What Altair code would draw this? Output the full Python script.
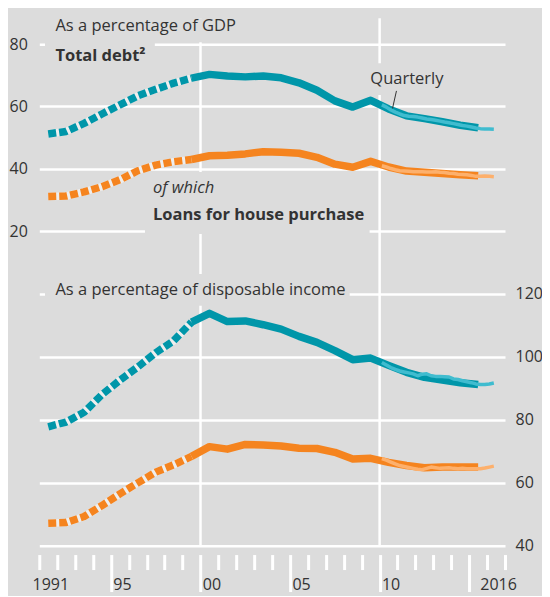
import altair as alt
import pandas as pd

# ---------------- data ----------------
years = list(range(1991, 2016))  # annual observations, plotted at mid-year

gdp_total = [51.2, 52.0, 54.6, 57.6, 60.5, 63.4, 65.5, 67.5, 69.1, 70.3,
             69.8, 69.5, 69.8, 69.2, 67.6, 65.2, 61.8, 59.8, 62.0, 59.2,
             57.0, 56.1, 55.1, 54.0, 53.2]
gdp_house = [31.1, 31.3, 32.6, 34.3, 36.5, 39.4, 41.2, 42.3, 43.0, 44.2,
             44.4, 44.8, 45.5, 45.3, 45.0, 43.7, 41.5, 40.5, 42.4, 40.6,
             39.3, 38.9, 38.5, 38.1, 37.8]
inc_total = [77.8, 79.3, 82.4, 88.0, 92.6, 96.8, 101.3, 105.1, 111.0, 113.8,
             111.2, 111.4, 110.2, 108.8, 106.5, 104.6, 102.0, 99.1, 99.6, 97.3,
             95.1, 93.5, 92.6, 91.8, 91.2]
inc_house = [47.2, 47.4, 49.3, 52.8, 56.5, 60.0, 63.4, 65.7, 68.4, 71.5,
             70.7, 72.2, 72.0, 71.7, 71.0, 70.9, 69.7, 67.6, 67.8, 66.5,
             65.5, 64.8, 65.0, 65.0, 65.0]

# quarterly observations 2010 Q1 - 2016 Q2
quarters = [(y, q) for y in range(2010, 2017) for q in range(1, 5)][:26]
gdp_total_q = [60.5, 59.8, 58.9, 58.2, 57.6, 57.1, 56.9, 56.8, 56.6, 56.3,
               56.0, 55.8, 55.6, 55.3, 55.0, 54.8, 54.5, 54.2, 53.9, 53.7,
               53.4, 53.1, 52.9, 52.8, 52.8, 52.7]
gdp_house_q = [41.0, 40.6, 40.1, 39.7, 39.4, 39.3, 39.2, 39.1, 39.1, 39.1,
               39.0, 39.0, 39.1, 38.9, 38.8, 38.6, 38.5, 38.3, 38.2, 38.1,
               37.9, 37.6, 37.6, 37.7, 37.6, 37.5]
inc_total_q = [98.2, 97.4, 96.6, 96.0, 95.5, 95.2, 94.9, 94.6, 94.0, 94.5,
               94.6, 94.0, 93.8, 93.8, 93.7, 93.6, 93.0, 92.8, 92.4, 92.1,
               91.8, 91.4, 91.2, 91.2, 91.4, 91.7]
inc_house_q = [67.7, 67.2, 66.6, 66.0, 65.5, 65.2, 64.9, 64.6, 64.3, 64.2,
               64.6, 65.0, 64.8, 64.6, 64.7, 64.8, 64.6, 64.5, 64.6, 64.5,
               64.5, 64.5, 64.5, 64.7, 65.0, 65.3]

dash_end = 1999  # dotted (estimated) part ends with this year
tick_years = list(range(1991, 2018))
vline_years = [2000, 2010]
gdp_ticks = [20, 40, 60, 80]
inc_ticks = [40, 60, 80, 100, 120]

# ---------------- style ----------------
TEAL, ORANGE = "#0096a9", "#f5841f"
TEAL_L, ORANGE_L = "#40bccf", "#fdb06c"
BG, INK, GAP = "#dcdcdc", "#333333", "#eeeeee"
FONT = "Open Sans"
FS = 16
FS_T = 16.5

S_TOT, S_HOU = "Total debt", "Loans for house purchase"
S_TOT_Q, S_HOU_Q = "Total debt (quarterly)", "Loans for house purchase (quarterly)"
color = alt.Color("series:N", legend=None,
                  scale=alt.Scale(domain=[S_TOT, S_HOU, S_TOT_Q, S_HOU_Q],
                                  range=[TEAL, ORANGE, TEAL_L, ORANGE_L]))


def annual(vals_tot, vals_hou):
    rows = []
    for y, a, b in zip(years, vals_tot, vals_hou):
        rows.append({"year": y + 0.5, "value": a, "series": S_TOT})
        rows.append({"year": y + 0.5, "value": b, "series": S_HOU})
    return pd.DataFrame(rows)


def quarterly(vals_tot, vals_hou):
    rows = []
    for (y, q), a, b in zip(quarters, vals_tot, vals_hou):
        rows.append({"year": y + (q - 0.5) / 4, "value": a, "series": S_TOT_Q})
        rows.append({"year": y + (q - 0.5) / 4, "value": b, "series": S_HOU_Q})
    return pd.DataFrame(rows)


# ---------------- scales / axes ----------------
x_scale = alt.Scale(domain=[1991, 2017], nice=False, zero=False)
major = "datum.value % 5 === 0"
x_axis = alt.Axis(
    values=tick_years, title=None, grid=False, domain=False, offset=8.7,
    tickColor="white", tickWidth=3,
    tickSize={"condition": {"test": major, "value": 37}, "value": 15},
    labelPadding={"condition": {"test": major, "value": -15}, "value": 7},
    labelExpr="datum.value == 1991 ? '1991' : datum.value == 2016 ? '2016' : "
              "datum.value == 1995 ? '95' : datum.value == 2000 ? '00' : "
              "datum.value == 2005 ? '05' : datum.value == 2010 ? '10' : ''",
    labelOffset=11, labelFontSize=FS, labelColor=INK, labelFont=FONT,
    labelOverlap=False, labelFlush=False, labelBound=False)

top_scale = alt.Scale(domain=[-80.91, 88.33], nice=False, zero=False)
top_axis = alt.Axis(orient="left", values=gdp_ticks, title=None, grid=True,
                    gridColor="white", gridWidth=2.5, domain=False, ticks=False,
                    labelPadding=12, labelFontSize=FS, labelColor=INK, labelFont=FONT)
bot_scale = alt.Scale(domain=[40, 207.51], nice=False, zero=False)
bot_axis = alt.Axis(orient="right", values=inc_ticks, title=None, grid=True,
                    gridColor="white", gridWidth=2.5, domain=False, ticks=False,
                    labelPadding=10, labelFontSize=FS, labelColor=INK, labelFont=FONT)


def X(field):
    return alt.X(field, scale=x_scale, axis=x_axis)


def panel_layers(df_a, df_q, y_scale, y_axis, masks, texts, extra=()):
    Y = lambda f: alt.Y(f, scale=y_scale, axis=y_axis)
    dashed = df_a[df_a.year <= dash_end + 0.5]
    solid = df_a[df_a.year >= dash_end + 0.5]
    layers = list(extra)
    layers.append(alt.Chart(masks).mark_rect(color=BG).encode(
        x=X("x0:Q"), x2="x1:Q", y=Y("y0:Q"), y2="y1:Q"))
    layers.append(alt.Chart(dashed).mark_line(strokeWidth=7.5, color=GAP, strokeCap="butt").encode(
        x=X("year:Q"), y=Y("value:Q"), detail="series:N"))
    layers.append(alt.Chart(dashed).mark_line(strokeWidth=7.5, strokeDash=[8, 3], strokeCap="butt",
                                              strokeJoin="round").encode(
        x=X("year:Q"), y=Y("value:Q"), color=color))
    layers.append(alt.Chart(solid).mark_line(strokeWidth=7.5, strokeCap="butt", strokeJoin="round").encode(
        x=X("year:Q"), y=Y("value:Q"), color=color))
    layers.append(alt.Chart(df_q).mark_line(strokeWidth=3.5, strokeCap="butt", strokeJoin="round").encode(
        x=X("year:Q"), y=Y("value:Q"), color=color))
    for style, tdf in texts:
        layers.append(alt.Chart(tdf).mark_text(align="left", baseline="middle", font=FONT,
                                               fontSize=FS_T, color=INK, **style).encode(
            x=X("x:Q"), y=Y("y:Q"), text="label:N"))
    return layers


# vertical white guide lines at 2000 and 2010
vlines = alt.Chart(pd.DataFrame({"year": vline_years})).mark_rule(
    color="white", strokeWidth=2.5).encode(x=X("year:Q"))

# ---- top panel: as a percentage of GDP ----
top_masks = pd.DataFrame({"x0": [1991.32, 1991.32, 1996.9, 2009.2],
                          "x1": [2002.2, 1997.45, 2009.44, 2013.5],
                          "y0": [80.6, 72.3, 19.1, 63.7],
                          "y1": [88.33, 81.0, 39.0, 73.9]})
top_texts = [
    ({}, pd.DataFrame({"x": [1991.9, 2009.48], "y": [85.8, 68.8],
                       "label": ["As a percentage of GDP", "Quarterly"]})),
    ({"fontWeight": "bold"}, pd.DataFrame({"x": [1991.9, 1997.35], "y": [76.2, 25.1],
                                           "label": ["Total debt²", "Loans for house purchase"]})),
    ({"fontStyle": "italic"}, pd.DataFrame({"x": [1997.35], "y": [33.7], "label": ["of which"]})),
]
leader = alt.Chart(pd.DataFrame({"x0": [2010.94], "x1": [2010.72], "y0": [65.0], "y1": [59.4]})).mark_rule(
    color=INK, strokeWidth=1).encode(
    x=X("x0:Q"), x2="x1:Q", y=alt.Y("y0:Q", scale=top_scale, axis=top_axis), y2="y1:Q")

top_layers = panel_layers(annual(gdp_total, gdp_house), quarterly(gdp_total_q, gdp_house_q),
                          top_scale, top_axis, top_masks, top_texts, extra=[vlines])
top_layers.append(leader)
top = alt.layer(*top_layers)

# ---- bottom panel: as a percentage of disposable income ----
bot_masks = pd.DataFrame({"x0": [1991.32], "x1": [2008.33], "y0": [116.2], "y1": [126.3]})
bot_texts = [({}, pd.DataFrame({"x": [1991.9], "y": [121.3],
                                "label": ["As a percentage of disposable income"]}))]
bottom = alt.layer(*panel_layers(annual(inc_total, inc_house), quarterly(inc_total_q, inc_house_q),
                                 bot_scale, bot_axis, bot_masks, bot_texts))

chart = alt.layer(top, bottom).resolve_scale(y="independent").properties(
    width=466, height=528,
    background=BG,
    padding={"left": 31.3, "top": 10, "right": 37, "bottom": 50},
    autosize=alt.AutoSizeParams(type="none"),
).configure_view(stroke=None)

chart.save("out.html", embed_options={"renderer": "svg", "actions": False})
